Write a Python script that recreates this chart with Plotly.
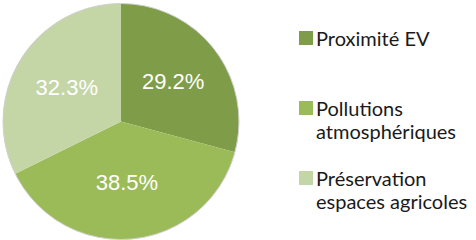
import plotly.graph_objects as go

labels = ["Proximité EV", "Pollutions atmosphériques", "Préservation espaces agricoles"]
legend_lines = [["Proximité EV"], ["Pollutions", "atmosphériques"], ["Préservation", "espaces agricoles"]]
values = [29.2, 38.5, 32.3]
colors = ["#7F9D48", "#9BBB59", "#C4D6A6"]

W, H = 476, 240
cx, cy, r = 121.0, 121.5, 118.0
fig = go.Figure()
fig.add_trace(go.Pie(
    labels=labels, values=values, sort=False, direction="clockwise", rotation=0,
    marker=dict(colors=colors, line=dict(width=0)),
    texttemplate="%{value:.1f}%", textposition="inside", insidetextorientation="horizontal",
    textfont=dict(family="Liberation Sans, Arial", size=22, color="white"),
    domain=dict(x=[(cx - r) / W, (cx + r) / W], y=[1 - (cy + r) / H, 1 - (cy - r) / H]),
    showlegend=False, hoverinfo="label+percent",
))

# outer thin outline
fig.add_shape(type="circle", xref="paper", yref="paper",
              x0=(cx - r) / W, x1=(cx + r) / W, y0=1 - (cy + r) / H, y1=1 - (cy - r) / H,
              line=dict(color="#D0D0D0", width=1), fillcolor="rgba(0,0,0,0)")

# legend
sq_top = [31, 101, 171]
line_gap = 22.5
for lines, c, top in zip(legend_lines, colors, sq_top):
    fig.add_shape(type="rect", xref="paper", yref="paper",
                  x0=299 / W, x1=313 / W, y0=1 - (top + 14) / H, y1=1 - top / H,
                  fillcolor=c, line=dict(width=0))
    for i, t in enumerate(lines):
        mid = top + 7 + i * line_gap
        fig.add_annotation(x=314 / W, y=1 - mid / H, xref="paper", yref="paper",
                           text=t, showarrow=False, xanchor="left", yanchor="middle", align="left",
                           font=dict(family="Lato", size=20, color="#1a1a1a"))

fig.update_layout(width=W, height=H, margin=dict(l=0, r=0, t=0, b=0),
                  paper_bgcolor="white", plot_bgcolor="white")
fig.write_html("out.html", post_script="document.body.style.margin='0';",
               config={"displayModeBar": False})
